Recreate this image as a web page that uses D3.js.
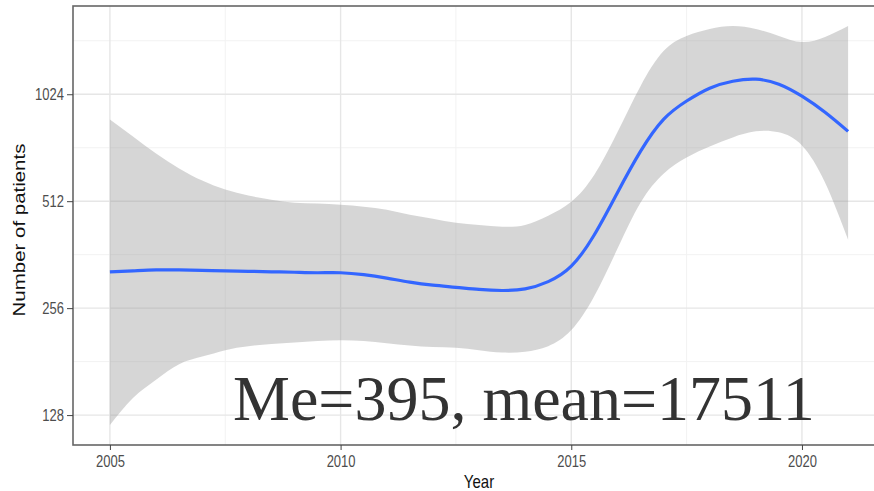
<!DOCTYPE html>
<html>
<head>
<meta charset="utf-8">
<script src="https://cdn.jsdelivr.net/npm/d3@7"></script>
<style>
  body { margin: 0; background: #fff; }
  svg { display: block; }
</style>
</head>
<body>
<script>
// smoothed fit (loess) with confidence band
var years = [2005, 2005.5, 2006, 2006.5, 2007, 2007.5, 2008, 2008.5, 2009, 2009.5,
             2010, 2010.5, 2011, 2011.5, 2012, 2012.5, 2013, 2013.5, 2014, 2014.5,
             2015, 2015.5, 2016, 2016.5, 2017, 2017.5, 2018, 2018.5, 2019, 2019.5,
             2020, 2020.5, 2021];
var fitValues = [324, 326, 328, 328, 327, 326, 325, 324, 323, 322,
                 322, 318, 311, 303, 297, 293, 289, 287, 290, 304,
                 336, 412, 541, 707, 870, 980, 1065, 1114, 1129, 1093,
                 1011, 911, 805];
var upperValues = [870, 779, 697, 633, 585, 552, 531, 517, 507, 504,
                   500, 494, 484, 469, 457, 445, 439, 434, 439, 466,
                   510, 608, 800, 1079, 1355, 1494, 1563, 1594, 1563, 1494,
                   1436, 1484, 1594];
var lowerValues = [120, 143, 161, 178, 187, 195, 200, 203, 205, 207,
                   208, 207, 204, 201, 199, 198, 195, 192, 193, 200,
                   222, 277, 376, 507, 612, 680, 730, 774, 805, 800,
                   735, 578, 399];

var xTicks = [2005, 2010, 2015, 2020];
var xMinor = [2007.5, 2012.5, 2017.5];
var yTicks = [128, 256, 512, 1024];
var yMinor = [181, 362, 724, 1448];
var note = "Me=395, mean=17511";

var width = 874, height = 491;
var panel = {left: 73, top: 6, right: 885, bottom: 445};

var data = years.map(function(d, i) {
    return {year: d, fit: fitValues[i], lo: lowerValues[i], hi: upperValues[i]};
});

// ggplot style 5% expansion
var xr = d3.extent(years), xpad = (xr[1] - xr[0]) * 0.05;
var lmin = Math.log2(d3.min(lowerValues)), lmax = Math.log2(d3.max(upperValues));
var ypad = (lmax - lmin) * 0.05;

var x = d3.scaleLinear()
    .domain([xr[0] - xpad, xr[1] + xpad])
    .range([panel.left, panel.right]);

var y = d3.scaleLog().base(2)
    .domain([Math.pow(2, lmin - ypad), Math.pow(2, lmax + ypad)])
    .range([panel.bottom, panel.top]);

var svg = d3.select("body").append("svg")
    .attr("width", width)
    .attr("height", height);

svg.append("defs").append("clipPath").attr("id", "clip")
  .append("rect")
    .attr("x", panel.left).attr("y", panel.top)
    .attr("width", panel.right - panel.left).attr("height", panel.bottom - panel.top);

// grid
var grid = svg.append("g");
grid.selectAll(".ymin").data(yMinor).enter().append("line")
    .attr("x1", panel.left).attr("x2", panel.right)
    .attr("y1", function(d) { return y(d); }).attr("y2", function(d) { return y(d); })
    .attr("stroke", "#f2f2f2").attr("stroke-width", 1);
grid.selectAll(".xmin").data(xMinor).enter().append("line")
    .attr("y1", panel.top).attr("y2", panel.bottom)
    .attr("x1", function(d) { return x(d); }).attr("x2", function(d) { return x(d); })
    .attr("stroke", "#f2f2f2").attr("stroke-width", 1);
grid.selectAll(".ymaj").data(yTicks).enter().append("line")
    .attr("x1", panel.left).attr("x2", panel.right)
    .attr("y1", function(d) { return y(d); }).attr("y2", function(d) { return y(d); })
    .attr("stroke", "#e6e6e6").attr("stroke-width", 1.4);
grid.selectAll(".xmaj").data(xTicks).enter().append("line")
    .attr("y1", panel.top).attr("y2", panel.bottom)
    .attr("x1", function(d) { return x(d); }).attr("x2", function(d) { return x(d); })
    .attr("stroke", "#e6e6e6").attr("stroke-width", 1.4);

var plot = svg.append("g").attr("clip-path", "url(#clip)");

var area = d3.area()
    .x(function(d) { return x(d.year); })
    .y0(function(d) { return y(d.lo); })
    .y1(function(d) { return y(d.hi); })
    .curve(d3.curveNatural);

var line = d3.line()
    .x(function(d) { return x(d.year); })
    .y(function(d) { return y(d.fit); })
    .curve(d3.curveNatural);

plot.append("path").datum(data)
    .attr("d", area)
    .attr("fill", "#999999")
    .attr("fill-opacity", 0.4);

plot.append("path").datum(data)
    .attr("d", line)
    .attr("fill", "none")
    .attr("stroke", "#3366ff")
    .attr("stroke-width", 3.2);

// panel border
svg.append("rect")
    .attr("x", panel.left).attr("y", panel.top)
    .attr("width", panel.right - panel.left).attr("height", panel.bottom - panel.top)
    .attr("fill", "none")
    .attr("stroke", "#666")
    .attr("stroke-width", 1.6);

// axes
var yAxis = d3.axisLeft(y).tickValues(yTicks).tickSize(6).tickPadding(3)
    .tickFormat(function(d) { return d; });
var xAxis = d3.axisBottom(x).tickValues(xTicks).tickSize(5)
    .tickFormat(function(d) { return d; });

var gy = svg.append("g")
    .attr("transform", "translate(" + panel.left + ",0)")
    .call(yAxis);
gy.select(".domain").remove();
gy.selectAll("line").attr("stroke", "#444");
gy.selectAll("text")
    .attr("fill", "#4d4d4d")
    .attr("font-family", "Liberation Sans, Arial, sans-serif")
    .attr("font-size", 13)
    .attr("transform", "scale(1,1.2)");

var gx = svg.append("g")
    .attr("transform", "translate(0," + panel.bottom + ")")
    .call(xAxis);
gx.select(".domain").remove();
gx.selectAll("line").attr("stroke", "#444");
gx.selectAll("text")
    .attr("fill", "#4d4d4d")
    .attr("font-family", "Liberation Sans, Arial, sans-serif")
    .attr("font-size", 13)
    .attr("y", 18.3)
    .attr("dy", 0)
    .attr("transform", "scale(1,1.2)");

// axis titles
svg.append("text")
    .attr("transform", "translate(" + ((panel.left + panel.right) / 2) + ",488) scale(1,1.22)")
    .attr("text-anchor", "middle")
    .attr("font-family", "Liberation Sans, Arial, sans-serif")
    .attr("font-size", 15)
    .attr("fill", "#111")
    .text("Year");

svg.append("text")
    .attr("transform", "translate(25,230) rotate(-90) scale(1.24,1)")
    .attr("text-anchor", "middle")
    .attr("font-family", "Liberation Sans, Arial, sans-serif")
    .attr("font-size", 16.5)
    .attr("fill", "#111")
    .text("Number of patients");

// annotation
svg.append("text")
    .attr("x", 233)
    .attr("y", 420)
    .attr("font-family", "Liberation Serif, Times New Roman, serif")
    .attr("font-size", 64)
    .attr("fill", "#333")
    .text(note);
</script>
</body>
</html>
